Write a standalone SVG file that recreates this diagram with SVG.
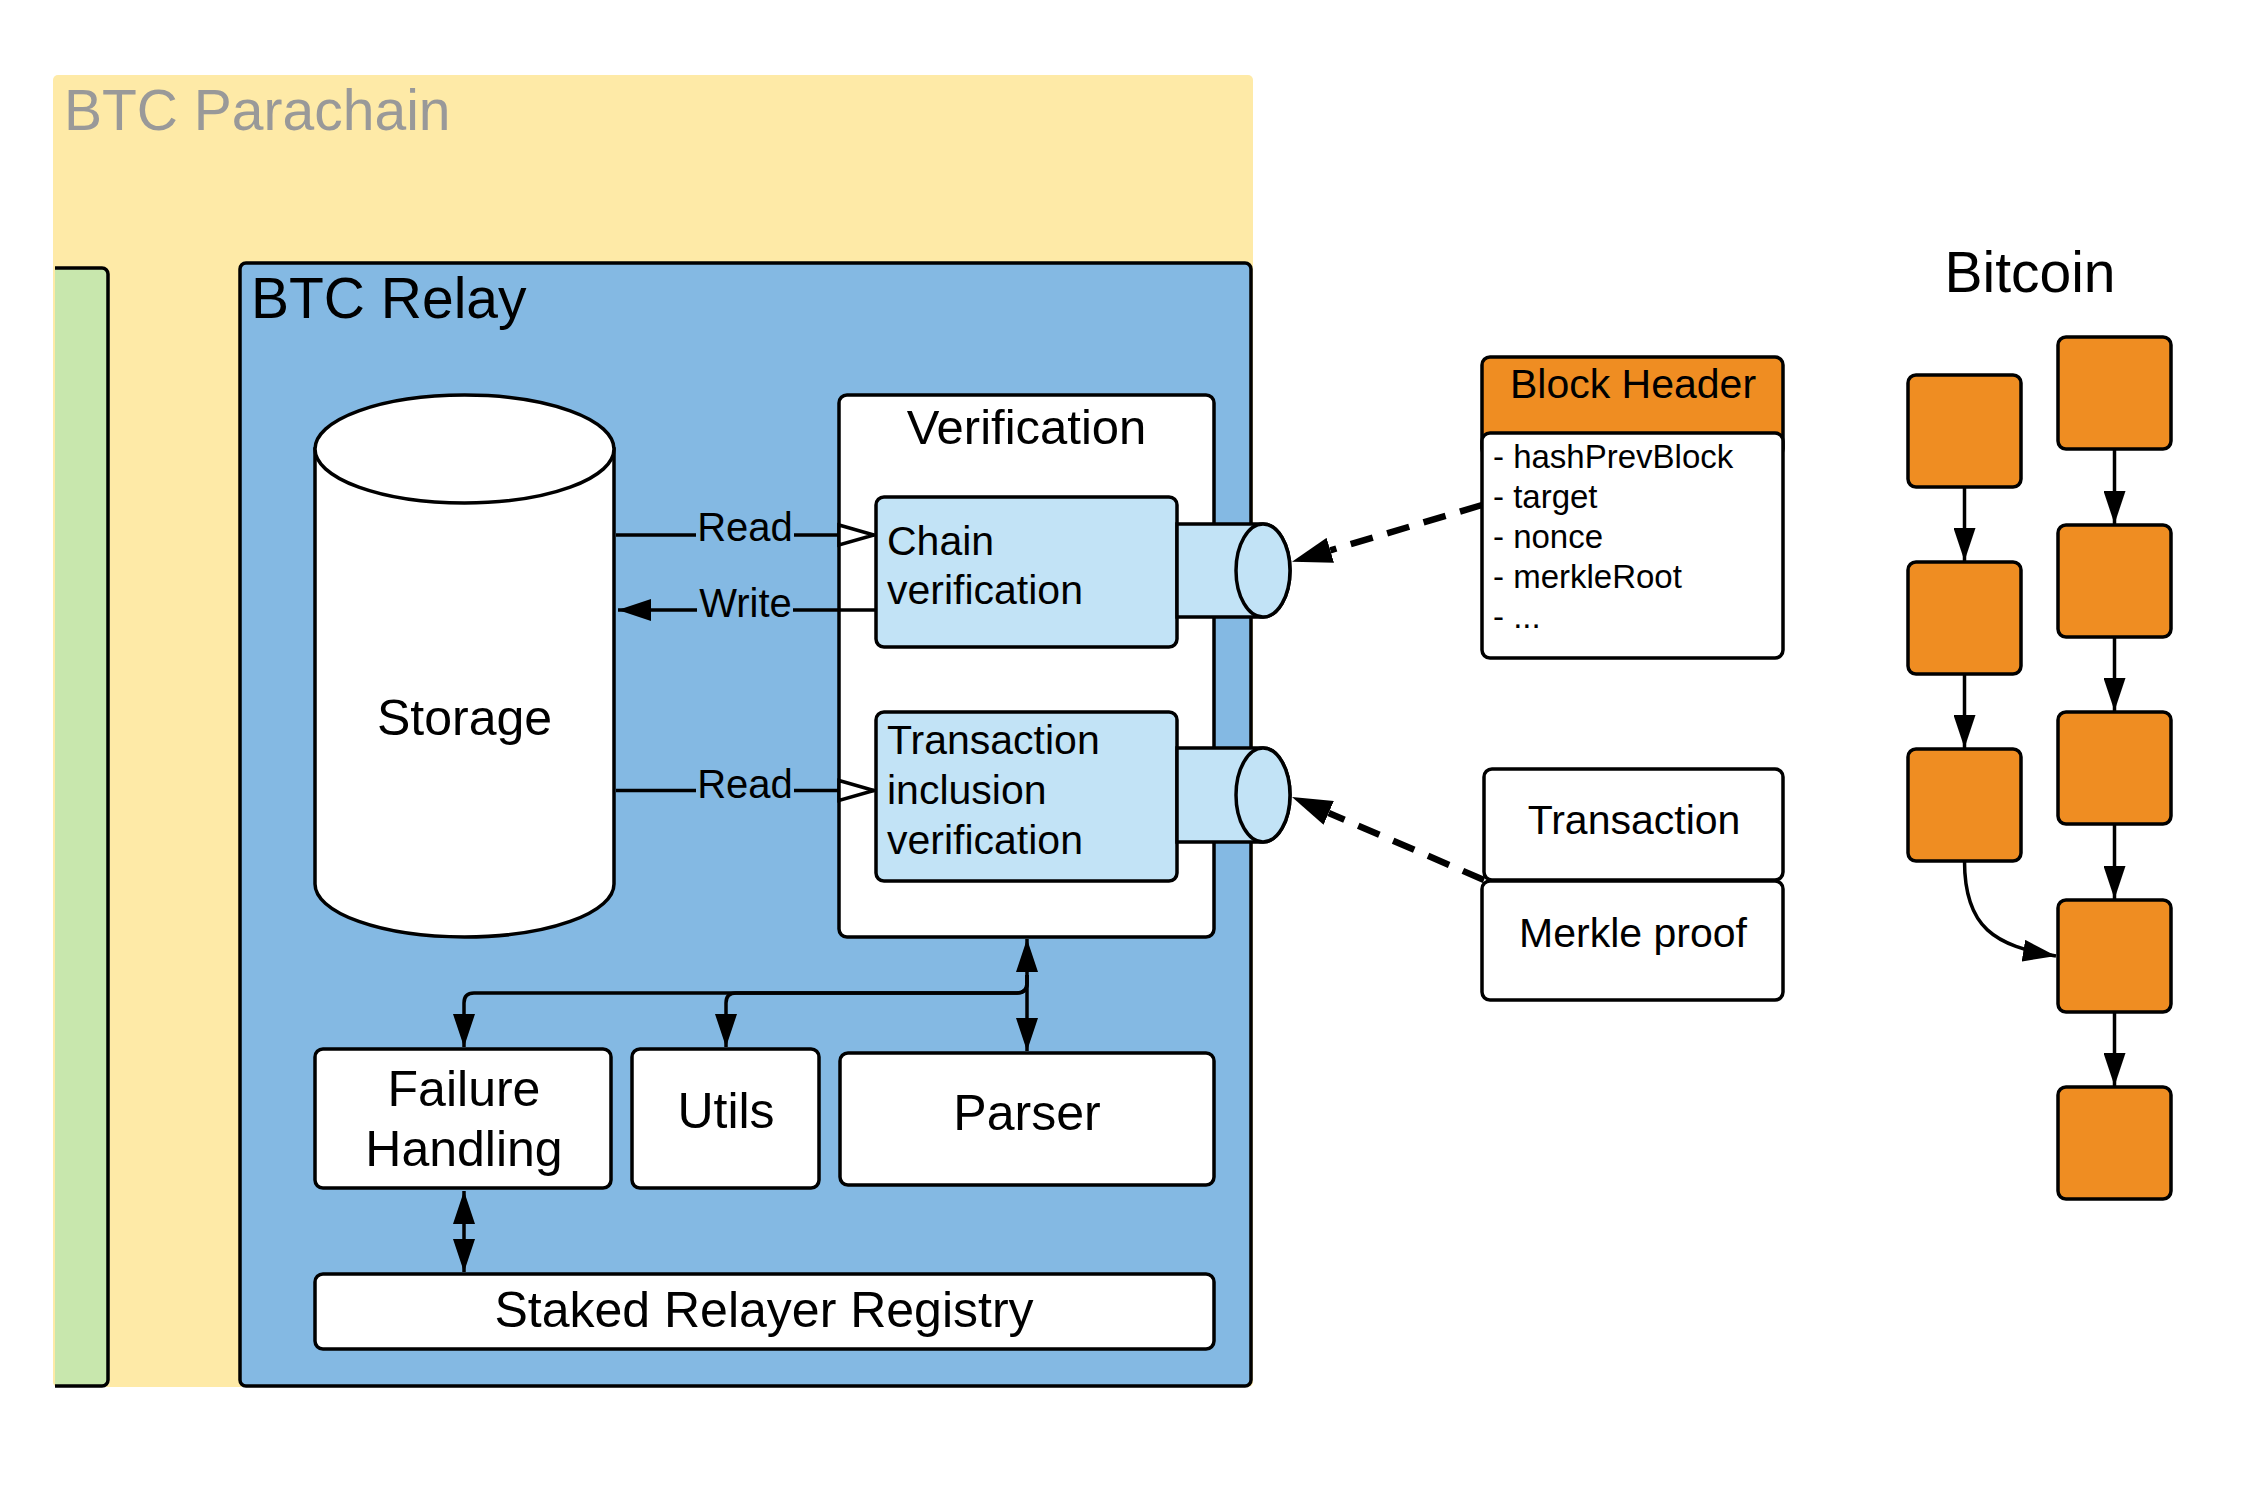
<svg xmlns="http://www.w3.org/2000/svg" width="2246" height="1500" viewBox="0 0 2246 1500">
<style>
text { font-family: "Liberation Sans", Arial, Helvetica, sans-serif; fill:#000; }
.s { stroke:#000; stroke-width:3.5; }
.white { fill:#fff; }
.lb { fill:#C2E3F6; }
.or { fill:#EF8D22; }
.ln { fill:none; stroke:#000; stroke-width:3.5; }
.dash { fill:none; stroke:#000; stroke-width:6.5; stroke-dasharray:23 15; }
.c50 { font-size:50px; text-anchor:middle; }
.c41 { font-size:41px; text-anchor:middle; }
.l41 { font-size:41px; }
.lab { font-size:40px; text-anchor:middle; }
.li { font-size:33px; }
.title { font-size:57px; }
</style>
<defs>
<marker id="arr" viewBox="0 0 33 22" refX="33" refY="11" markerWidth="33" markerHeight="22" markerUnits="userSpaceOnUse" orient="auto-start-reverse">
<path d="M0,0 L33,11 L0,22 Z" fill="#000"/>
</marker>
<marker id="open" viewBox="-2 -2 39 26" refX="35" refY="11" markerWidth="39" markerHeight="26" markerUnits="userSpaceOnUse" orient="auto">
<path d="M0,1 L35,11 L0,21 Z" fill="#fff" stroke="#000" stroke-width="3.5" stroke-linejoin="miter"/>
</marker>
<marker id="big" viewBox="0 0 40 26" refX="0" refY="13" markerWidth="40" markerHeight="26" markerUnits="userSpaceOnUse" orient="auto">
<path d="M0,0 L40,13 L0,26 Z" fill="#000"/>
</marker>
<clipPath id="gclip"><rect x="55" y="200" width="100" height="1250"/></clipPath>
</defs>

<g id="btc-parachain">
<rect x="53" y="75" width="1200" height="1312" rx="5" fill="#FEEAA7"/>
<text x="64" y="130" class="title" style="fill:#999999">BTC Parachain</text>
</g>

<g id="green-module" clip-path="url(#gclip)">
<rect x="50" y="268" width="58" height="1118" rx="6" fill="#C8E7AD" class="s"/>
</g>

<g id="btc-relay">
<rect x="240" y="263" width="1011" height="1123" rx="6" fill="#84B9E3" class="s"/>
<text x="251" y="318" class="title">BTC Relay</text>
</g>

<g id="storage">
<path d="M315,449 L315,884 A149.5,53 0 0 0 614,884 L614,449 Z" class="s white"/>
<ellipse cx="464.5" cy="449" rx="149.5" ry="54" class="s white"/>
<text x="464.5" y="735" class="c50">Storage</text>
</g>

<g id="verification">
<rect x="839" y="395" width="375" height="542" rx="8" class="s white"/>
<text x="1026.5" y="444" class="c50" style="font-size:49px">Verification</text>
</g>

<g id="chain-verification">
<rect x="876" y="497" width="301" height="150" rx="8" class="s lb"/>
<text x="887" y="555" class="l41">Chain</text>
<text x="887" y="604" class="l41">verification</text>
<path d="M1177,524 L1263,524 A27,46.5 0 0 1 1263,617 L1177,617 Z" class="s lb"/>
<ellipse cx="1263" cy="570.5" rx="27" ry="46.5" class="s lb"/>
</g>

<g id="tx-inclusion-verification">
<rect x="876" y="712" width="301" height="169" rx="8" class="s lb"/>
<text x="887" y="754" class="l41">Transaction</text>
<text x="887" y="804" class="l41">inclusion</text>
<text x="887" y="854" class="l41">verification</text>
<path d="M1177,748 L1263,748 A27,47 0 0 1 1263,842 L1177,842 Z" class="s lb"/>
<ellipse cx="1263" cy="795" rx="27" ry="47" class="s lb"/>
</g>

<g id="failure-handling">
<rect x="315" y="1049" width="296" height="139" rx="8" class="s white"/>
<text x="464" y="1106" class="c50">Failure</text>
<text x="464" y="1166" class="c50">Handling</text>
</g>

<g id="utils">
<rect x="632" y="1049" width="187" height="139" rx="8" class="s white"/>
<text x="726" y="1128" class="c50">Utils</text>
</g>

<g id="parser">
<rect x="840" y="1053" width="374" height="132" rx="8" class="s white"/>
<text x="1027" y="1130" class="c50">Parser</text>
</g>

<g id="staked-relayer-registry">
<rect x="315" y="1274" width="899" height="75" rx="8" class="s white"/>
<text x="764" y="1327" class="c50">Staked Relayer Registry</text>
</g>

<g id="block-header">
<rect x="1482" y="357" width="301" height="100" rx="8" class="s or"/>
<rect x="1482" y="433" width="301" height="225" rx="8" class="s white"/>
<text x="1633" y="398" class="c41">Block Header</text>
<text x="1493" y="468" class="li">- hashPrevBlock</text>
<text x="1493" y="508" class="li">- target</text>
<text x="1493" y="548" class="li">- nonce</text>
<text x="1493" y="588" class="li">- merkleRoot</text>
<text x="1493" y="628" class="li">- ...</text>
</g>

<g id="transaction">
<rect x="1484" y="769" width="299" height="111" rx="8" class="s white"/>
<text x="1634" y="834" class="c41">Transaction</text>
</g>

<g id="merkle-proof">
<rect x="1482" y="881" width="301" height="119" rx="8" class="s white"/>
<text x="1633" y="947" class="c41">Merkle proof</text>
</g>

<g id="bitcoin">
<text x="2030" y="292" class="title" style="text-anchor:middle">Bitcoin</text>
<rect x="1908" y="375" width="113" height="112" rx="8" class="s or"/>
<rect x="1908" y="562" width="113" height="112" rx="8" class="s or"/>
<rect x="1908" y="749" width="113" height="112" rx="8" class="s or"/>
<rect x="2058" y="337" width="113" height="112" rx="8" class="s or"/>
<rect x="2058" y="525" width="113" height="112" rx="8" class="s or"/>
<rect x="2058" y="712" width="113" height="112" rx="8" class="s or"/>
<rect x="2058" y="900" width="113" height="112" rx="8" class="s or"/>
<rect x="2058" y="1087" width="113" height="112" rx="8" class="s or"/>
</g>

<g id="connectors">
<line x1="616" y1="535" x2="874" y2="535" class="ln" marker-end="url(#open)"/>
<rect x="696" y="512" width="98" height="36" fill="#84B9E3"/>
<text x="745" y="541" class="lab">Read</text>

<line x1="876" y1="610" x2="618" y2="610" class="ln" marker-end="url(#arr)"/>
<rect x="697" y="588" width="96" height="36" fill="#84B9E3"/>
<text x="745.5" y="617" class="lab">Write</text>

<line x1="616" y1="790.5" x2="874" y2="790.5" class="ln" marker-end="url(#open)"/>
<rect x="696" y="768" width="98" height="36" fill="#84B9E3"/>
<text x="745" y="798" class="lab">Read</text>

<path d="M1027,939 L1027,1051" class="ln" marker-start="url(#arr)" marker-end="url(#arr)"/>
<path d="M1027,975 L1027,983 Q1027,993 1017,993 L474,993 Q464,993 464,1003 L464,1047" class="ln" marker-end="url(#arr)"/>
<path d="M1027,975 L1027,983 Q1027,993 1017,993 L736,993 Q726,993 726,1003 L726,1047" class="ln" marker-end="url(#arr)"/>
<path d="M464,1191 L464,1272" class="ln" marker-start="url(#arr)" marker-end="url(#arr)"/>

<path d="M1482,505 L1330.3,550.3" class="dash" marker-end="url(#big)"/>
<path d="M1484,880 L1328.7,812.9" class="dash" marker-end="url(#big)"/>

<path d="M1964.5,487 L1964.5,561" class="ln" marker-end="url(#arr)"/>
<path d="M1964.5,674 L1964.5,748" class="ln" marker-end="url(#arr)"/>
<path d="M2114.5,449 L2114.5,524" class="ln" marker-end="url(#arr)"/>
<path d="M2114.5,637 L2114.5,711" class="ln" marker-end="url(#arr)"/>
<path d="M2114.5,824 L2114.5,899" class="ln" marker-end="url(#arr)"/>
<path d="M2114.5,1012 L2114.5,1086" class="ln" marker-end="url(#arr)"/>
<path d="M1964.5,861 C1964.5,928 1995,946 2056,956" class="ln" marker-end="url(#arr)"/>
</g>
</svg>
